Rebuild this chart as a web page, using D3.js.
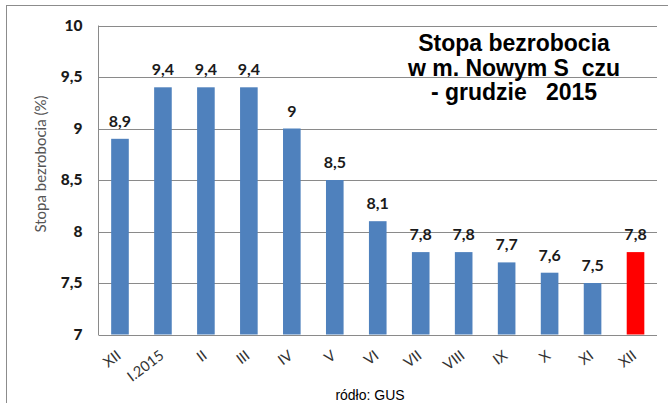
<!DOCTYPE html>
<html><head><meta charset="utf-8">
<script src="https://cdn.jsdelivr.net/npm/d3@7"></script>
<style>body{margin:0;background:#fff}svg{display:block}</style>
</head><body>
<svg id="c" width="668" height="403"></svg>
<script>
const categories = ["XII","I.2015","II","III","IV","V","VI","VII","VIII","IX","X","XI","XII "];
const labels = ["XII","I.2015","II","III","IV","V","VI","VII","VIII","IX","X","XI","XII"];
const values = [8.9,9.4,9.4,9.4,9.0,8.5,8.1,7.8,7.8,7.7,7.6,7.5,7.8];
const valueLabels = ["8,9","9,4","9,4","9,4","9","8,5","8,1","7,8","7,8","7,7","7,6","7,5","7,8"];
const yTicks = [7,7.5,8,8.5,9,9.5,10];
const yTickLabels = ["7","7,5","8","8,5","9","9,5","10"];
const colors = ["#4F81BD","#4F81BD","#4F81BD","#4F81BD","#4F81BD","#4F81BD","#4F81BD","#4F81BD","#4F81BD","#4F81BD","#4F81BD","#4F81BD","#FF0000"];
const titleLines = ["Stopa bezrobocia","w m. Nowym S  czu","- grudzie   2015"];

const svg = d3.select("#c");
const m = {l:98.5, r:657, t:25.5, b:334.5};
svg.append("rect").attr("x",6.5).attr("y",5.5).attr("width",700).attr("height",500)
  .attr("fill","#fff").attr("stroke","#8c8c8c").attr("stroke-width",1);

const x = d3.scaleBand().domain(categories).range([m.l,m.r]).paddingInner(0.59).paddingOuter(0.295);
const y = d3.scaleLinear().domain([7,10]).range([m.b,m.t]);

// gridlines
svg.append("g").selectAll("line").data(yTicks).join("line")
  .attr("x1",m.l).attr("x2",m.r).attr("y1",d=>Math.round(y(d))+0.5).attr("y2",d=>Math.round(y(d))+0.5)
  .attr("stroke","#8a8a8a").attr("stroke-width",1);
svg.append("line").attr("x1",m.l).attr("x2",m.l).attr("y1",m.t).attr("y2",m.b+0.5)
  .attr("stroke","#8a8a8a");

// y axis labels
const yAxis = d3.axisLeft(y).tickValues(yTicks).tickFormat((d,i)=>yTickLabels[i]).tickSize(0).tickPadding(16);
const ga = svg.append("g").attr("transform",`translate(${m.l},0)`).call(yAxis);
ga.select(".domain").remove();
ga.selectAll("text").attr("font-family","Lato").attr("font-weight","900").attr("font-size",15.5).attr("fill","#1a1a1a");

// bars
svg.append("g").selectAll("rect").data(values).join("rect")
  .attr("x",(d,i)=>x(categories[i])).attr("width",x.bandwidth())
  .attr("y",d=>y(d)).attr("height",d=>y(7)-y(d)).attr("fill",(d,i)=>colors[i]);

// value labels
svg.append("g").selectAll("text").data(values).join("text")
  .attr("x",(d,i)=>x(categories[i])+x.bandwidth()/2).attr("y",d=>y(d)-12)
  .attr("text-anchor","middle").attr("font-family","Lato").attr("font-weight","bold")
  .attr("font-size",16).attr("fill","#1a1a1a").text((d,i)=>valueLabels[i]);

// x labels
const xl = svg.append("g").selectAll("g").data(categories).join("g")
  .attr("transform",d=>"translate(" + (x(d)+x.bandwidth()/2+2) + "," + (m.b+23) + ")");
xl.append("text")
  .attr("transform","rotate(-37)")
  .attr("text-anchor","end").attr("x",0).attr("y",0)
  .attr("font-family","Lato").attr("font-size",14.5).attr("fill","#333")
  .text((d,i)=>labels[i]);

// y title
svg.append("text").attr("transform","translate(46,164) rotate(-90)").attr("text-anchor","middle")
  .attr("font-family","Lato").attr("font-size",15).attr("fill","#555").text("Stopa bezrobocia (%)");

// title
const tt = svg.append("text").attr("font-family","Liberation Sans, Arial").attr("font-weight","bold")
  .attr("font-size",23).attr("fill","#000").attr("text-anchor","middle").style("white-space","pre");
titleLines.forEach((t,i)=>tt.append("tspan").attr("x",514).attr("y",51+i*24.5).text(t));

svg.append("text").attr("x",370).attr("y",400).attr("text-anchor","middle")
  .attr("font-family","Liberation Sans, Arial").attr("font-size",14).attr("fill","#000").text("ródło: GUS");
</script>
</body></html>
